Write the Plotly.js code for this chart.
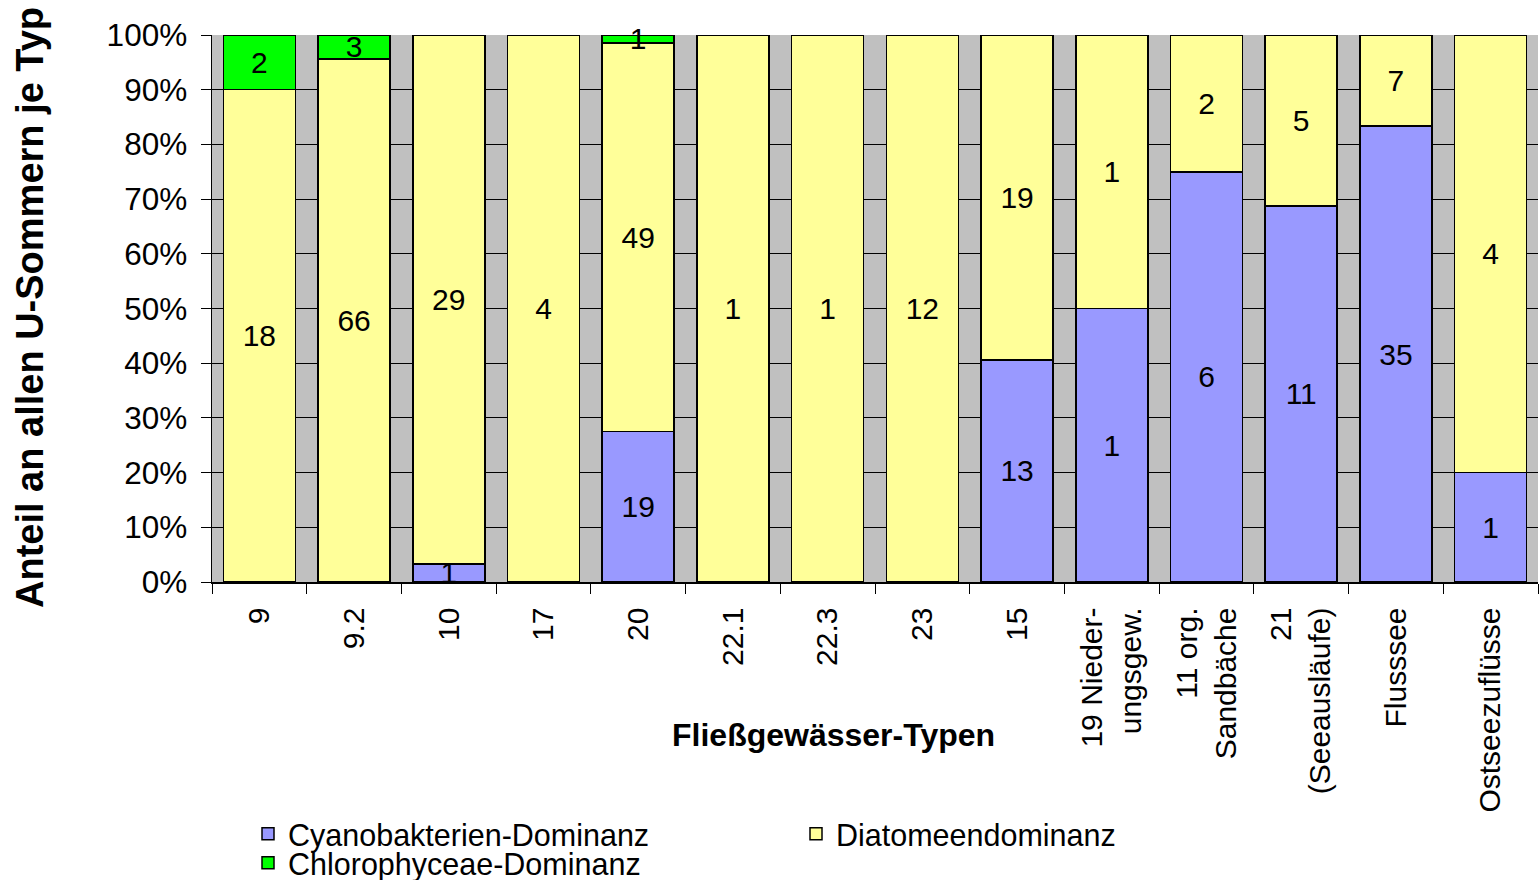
<!DOCTYPE html>
<html>
<head>
<meta charset="utf-8">
<script src="https://cdn.plot.ly/plotly-3.0.1.min.js"></script>
<style>html,body{margin:0;padding:0;background:#fff;}#chart{width:1539px;height:880px;}</style>
</head>
<body>
<div id="chart"></div>
<script>
const categories = ['9','9.2','10','17','20','22.1','22.3','23','15','19 Nieder-<br>ungsgew.','11 org.<br>Sandbäche','21<br>(Seeausläufe)','Flusssee','Ostseezuflüsse'];
const cyanoValues  = [0, 0, 1, 0, 19, 0, 0, 0, 13, 1, 6, 11, 35, 1];
const diatomValues = [18, 66, 29, 4, 49, 1, 1, 12, 19, 1, 2, 5, 7, 4];
const chloroValues = [2, 3, 0, 0, 1, 0, 0, 0, 0, 0, 0, 0, 0, 0];
const seriesNames = ['Cyanobakterien-Dominanz', 'Diatomeendominanz', 'Chlorophyceae-Dominanz'];
const yTicks = [0,10,20,30,40,50,60,70,80,90,100];

const FONT = 'Liberation Sans, Arial, sans-serif';
const labelOf = v => v ? String(v) : '';

// plot area geometry (pixels) used to place paper-referenced items
const L = 212, R = 1538, T = 35, B = 582;
const px = x => (x - L) / (R - L);
const py = y => (B - y) / (B - T);

function barTrace(name, vals, color, legendId) {
  return {
    type: 'bar', name: name, x: categories, y: vals,
    text: vals.map(labelOf), textposition: 'inside', insidetextanchor: 'middle',
    textangle: 0, constraintext: 'none',
    textfont: {family: FONT, size: 30, color: '#000'},
    marker: {color: color, line: {color: '#000', width: 1.5}},
    legend: legendId, hoverinfo: 'skip', cliponaxis: false
  };
}

const data = [
  barTrace(seriesNames[0], cyanoValues, '#9999FF', 'legend'),
  barTrace(seriesNames[1], diatomValues, '#FFFF99', 'legend2'),
  barTrace(seriesNames[2], chloroValues, '#00FF00', 'legend3')
];

const legendBase = {orientation: 'h', xanchor: 'left', yanchor: 'middle', bgcolor: 'rgba(0,0,0,0)',
  font: {family: FONT, size: 30.5, color: '#000'}, borderwidth: 0};

const layout = {
  width: 1539, height: 880,
  margin: {l: L, r: 1539 - R, t: T, b: 880 - B, autoexpand: false},
  paper_bgcolor: '#fff', plot_bgcolor: '#C0C0C0',
  barmode: 'stack', barnorm: 'percent', bargap: 0.24,
  font: {family: FONT, size: 30, color: '#000'},
  xaxis: {
    type: 'category', tickangle: -90, tickson: 'boundaries', ticks: 'outside', ticklen: 10,
    tickcolor: '#000', showline: true, linecolor: '#000', linewidth: 1.5, showgrid: false,
    tickfont: {family: FONT, size: 30, color: '#000'}, ticklabelstandoff: 12, automargin: false
  },
  yaxis: {
    range: [0, 100], tickvals: yTicks, ticktext: yTicks.map(v => v + '%'),
    ticks: 'outside', ticklen: 10, tickcolor: '#000', showline: true, linecolor: '#000', linewidth: 1.5,
    showgrid: true, gridcolor: '#000', gridwidth: 1, zeroline: false,
    tickfont: {family: FONT, size: 31.5, color: '#000'}, ticklabelstandoff: 7, automargin: false
  },
  showlegend: true,
  legend:  Object.assign({}, legendBase, {x: px(248), y: py(834)}),
  legend2: Object.assign({}, legendBase, {x: px(796), y: py(834)}),
  legend3: Object.assign({}, legendBase, {x: px(248), y: py(863)}),
  annotations: [
    {text: '<b>Fließgewässer-Typen</b>', xref: 'paper', yref: 'paper', x: px(833), y: py(735),
     xanchor: 'center', yanchor: 'middle', showarrow: false, font: {family: FONT, size: 32, color: '#000'}},
    {text: '<b>Anteil an allen U-Sommern je Typ</b>', xref: 'paper', yref: 'paper', x: px(30), y: py(308),
     xanchor: 'center', yanchor: 'middle', textangle: -90, showarrow: false, font: {family: FONT, size: 38, color: '#000'}}
  ]
};

Plotly.newPlot('chart', data, layout, {displayModeBar: false, staticPlot: true});
</script>
</body>
</html>
